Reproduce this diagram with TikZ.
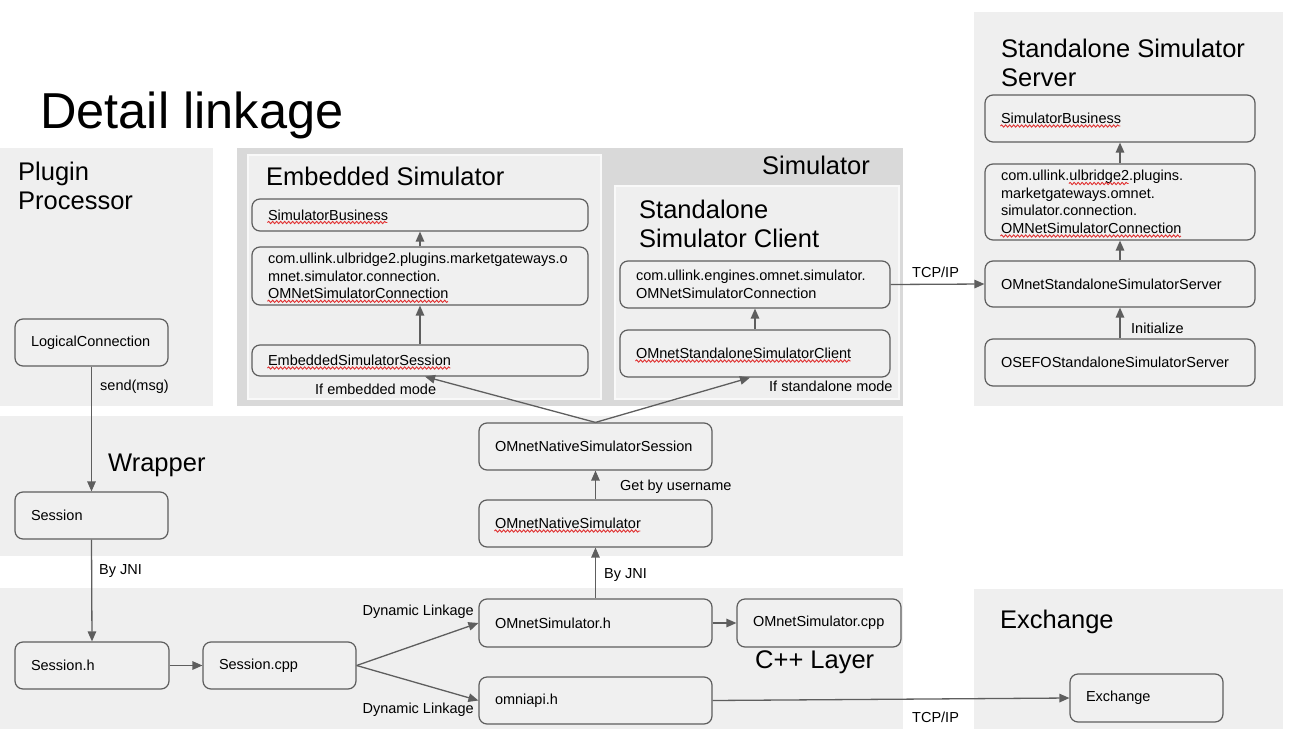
\documentclass[tikz,border=0pt]{standalone}
\usepackage{fontspec}
\setmainfont{Liberation Sans}
\usetikzlibrary{arrows.meta,decorations.pathmorphing}
\definecolor{panel}{HTML}{EFEFEF}
\definecolor{simpanel}{HTML}{D9D9D9}
\definecolor{edge}{HTML}{5E5E5E}
\definecolor{boxfill}{HTML}{F0F0F0}
\definecolor{spellred}{HTML}{E03030}
\newcommand\boxfont{\fontsize{14.5}{17.5}\selectfont}
\newlength\wNative \newlength\wBusiness \newlength\wConn \newlength\wEmb
\newlength\wClient \newlength\wPre \newlength\wUlb
\newcommand\bx[6]{%
  \pgfmathsetmacro\bxw{#4-#2}\pgfmathsetmacro\bxh{#5-#3}\pgfmathsetmacro\bxt{#4-#2-32}%
  \node[box, minimum width=\bxw pt, minimum height=\bxh pt, text width=\bxt pt] (#1) at ({(#2+#4)/2},{(#3+#5)/2}) {#6};}
% spell-check squiggle: node, offset below centre (pt), x offset (length), width (length)
\newcommand\squig[4]{%
  \draw[wave] ([xshift=16pt+#3, yshift=-#2pt]#1.west) -- ([xshift=16pt+#3+#4, yshift=-#2pt]#1.west);}
\tikzset{
  box/.style={draw=edge, fill=boxfill, rounded corners=8pt, line width=1.2pt, inner xsep=16pt, inner ysep=0pt, align=left, font=\boxfont},
  lbl/.style={font=\boxfont, inner sep=0pt, anchor=base west},
  ttl/.style={font=\fontsize{25.5}{29}\selectfont, inner sep=0pt, anchor=base west},
  arr/.style={draw=edge, line width=1.3pt, -{Triangle[length=10pt,width=8.5pt]}},
  inpanel/.style={fill=panel, draw=white!60!panel, line width=1.2pt},
  wave/.style={draw=spellred, line width=0.9pt, decorate, decoration={snake, amplitude=1.1pt, segment length=4pt}},
}
\begin{document}
\settowidth\wNative{\boxfont OMnetNativeSimulator}%
\settowidth\wBusiness{\boxfont SimulatorBusiness}%
\settowidth\wConn{\boxfont OMNetSimulatorConnection}%
\settowidth\wEmb{\boxfont EmbeddedSimulatorSession}%
\settowidth\wClient{\boxfont OMnetStandaloneSimulatorClient}%
\settowidth\wPre{\boxfont com.ullink.}%
\settowidth\wUlb{\boxfont ulbridge2}%
\begin{tikzpicture}[x=1pt,y=-1pt]
\useasboundingbox (0,0) rectangle (1294,742);
\fill[white] (0,0) rectangle (1294,742);
% panels
\fill[panel] (0,148) rectangle (213,406);
\fill[simpanel] (237,148) rectangle (903,406);
\filldraw[inpanel] (248,155) rectangle (601,399);
\filldraw[inpanel] (615,186) rectangle (899,399);
\fill[panel] (974,12) rectangle (1283,406);
\fill[panel] (0,416) rectangle (903,556);
\fill[panel] (0,588) rectangle (903,729);
\fill[panel] (974,589) rectangle (1283,729);
% titles
\node[inner sep=0pt, anchor=base west, font=\fontsize{50.5}{60}\selectfont] (title) at (40,128) {Detail linkage};
\node[ttl] (ppA) at (18,180) {Plugin};
\node[ttl] (ppB) at (18,209) {Processor};
\node[ttl] (embT) at (266,185) {Embedded Simulator};
\node[ttl] (simT) at (762,174) {Simulator};
\node[ttl] (cliA) at (639,218) {Standalone};
\node[ttl] (cliB) at (639,247) {Simulator Client};
\node[ttl] (srvA) at (1001,57) {Standalone Simulator};
\node[ttl] (srvB) at (1001,86) {Server};
\node[ttl] (wrapT) at (108,471) {Wrapper};
\node[ttl] (cppT) at (755,668) {C++ Layer};
\node[ttl] (exT) at (1000,628) {Exchange};
% boxes
\bx{lc}{15}{319}{168}{366}{LogicalConnection}
\bx{sess}{15}{492}{168}{539}{Session}
\bx{sessh}{15}{642}{169}{689}{Session.h}
\bx{sesscpp}{203}{642}{356}{689}{Session.cpp}
\bx{osh}{479}{599}{712}{647}{OMnetSimulator.h}
\bx{oscpp}{737}{599}{901}{647}{OMnetSimulator.cpp}
\bx{omni}{479}{677}{712}{724}{omniapi.h}
\bx{ons}{479}{500}{712}{547}{OMnetNativeSimulator}
\bx{onss}{479}{423}{712}{470}{OMnetNativeSimulatorSession}
\bx{esb}{252}{199}{588}{231}{SimulatorBusiness}
\bx{ecom}{252}{247}{588}{305}{com.ullink.ulbridge2.plugins.marketgateways.o\\mnet.simulator.connection.\\OMNetSimulatorConnection}
\bx{ess}{252}{345}{588}{376}{EmbeddedSimulatorSession}
\bx{ccom}{620}{261}{890}{308}{com.ullink.engines.omnet.simulator.\\OMNetSimulatorConnection}
\bx{ccli}{620}{330}{890}{377}{OMnetStandaloneSimulatorClient}
\bx{ssb}{985}{95}{1255}{142}{SimulatorBusiness}
\bx{scom}{985}{164}{1255}{240}{com.ullink.ulbridge2.plugins.\\marketgateways.omnet.\\simulator.connection.\\OMNetSimulatorConnection}
\bx{ssrv}{985}{261}{1255}{307}{OMnetStandaloneSimulatorServer}
\bx{osefo}{985}{339}{1255}{386}{OSEFOStandaloneSimulatorServer}
\bx{exch}{1070}{674}{1223}{722}{Exchange}
% spell-check squiggles
\squig{ons}{7.5}{0pt}{\wNative}
\squig{esb}{7.5}{0pt}{\wBusiness}
\squig{ecom}{25.3}{0pt}{\wConn}
\squig{ess}{7.5}{0pt}{\wEmb}
\squig{ccli}{7.5}{0pt}{\wClient}
\squig{ssb}{7.5}{0pt}{\wBusiness}
\squig{scom}{-18.5}{\wPre}{\wUlb}
\squig{scom}{34}{0pt}{\wConn}
% labels
\node[lbl] (lsend) at (100,390) {send(msg)};
\node[lbl] (ljni1) at (99,574) {By JNI};
\node[lbl] (ljni2) at (604,578) {By JNI};
\node[lbl] (luser) at (620,490) {Get by username};
\node[lbl, anchor=base east] (ldyn1) at (474,615) {Dynamic Linkage};
\node[lbl, anchor=base east] (ldyn2) at (474,713) {Dynamic Linkage};
\node[lbl] (lemb) at (315,394) {If embedded mode};
\node[lbl] (lsta) at (769,391) {If standalone mode};
\node[lbl] (ltcp1) at (912,277) {TCP/IP};
\node[lbl] (ltcp2) at (912,722) {TCP/IP};
\node[lbl] (linit) at (1131,333) {Initialize};
% connectors
\draw[arr] (lc.south) -- (sess.north);
\draw[arr] (sess.south) -- (sessh.north);
\draw[arr] (sessh.east) -- (sesscpp.west);
\draw[arr] (sesscpp.east) -- (osh.west);
\draw[arr] (sesscpp.east) -- (omni.west);
\draw[arr] (osh.east) -- (oscpp.west);
\draw[arr] (osh.north) -- (ons.south);
\draw[arr] (ons.north) -- (onss.south);
\draw[arr] (onss.north) -- ([xshift=5pt]ess.south);
\draw[arr] (onss.north) -- ([xshift=-5pt]ccli.south);
\draw[arr] (ess.north) -- (ecom.south);
\draw[arr] (ecom.north) -- (esb.south);
\draw[arr] (ccli.north) -- (ccom.south);
\draw[arr] (ccom.east) -- (ssrv.west);
\draw[arr] (osefo.north) -- (ssrv.south);
\draw[arr] (ssrv.north) -- (scom.south);
\draw[arr] (scom.north) -- (ssb.south);
\draw[arr] (omni.east) -- (exch.west);
\end{tikzpicture}
\end{document}
